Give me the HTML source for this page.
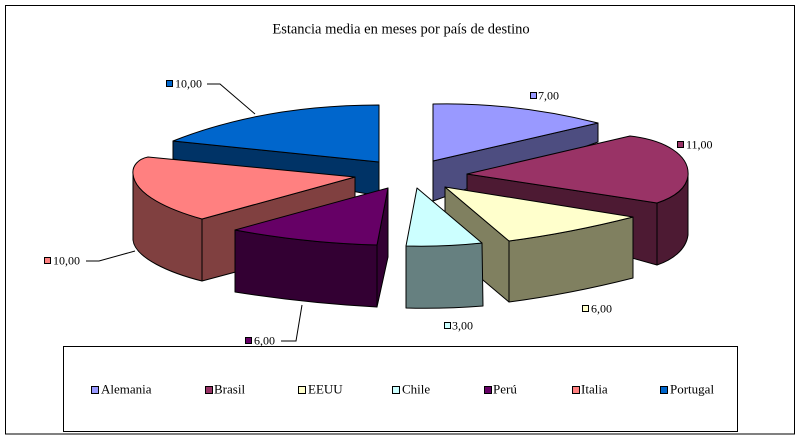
<!DOCTYPE html>
<html>
<head>
<meta charset="utf-8">
<style>
html,body{margin:0;padding:0;background:#fff;}
svg{display:block;}
text{font-family:"Liberation Serif","DejaVu Serif",serif;fill:#000;}
</style>
</head>
<body>
<svg width="802" height="441" viewBox="0 0 802 441" xmlns="http://www.w3.org/2000/svg">
<rect x="0" y="0" width="802" height="441" fill="#fff"/>
<rect x="5.5" y="5.5" width="789" height="428.5" fill="none" stroke="#000" stroke-width="1"/>

<text x="401" y="33.5" font-size="14.5" text-anchor="middle">Estancia media en meses por país de destino</text>

<g stroke="#000" stroke-width="1" stroke-linejoin="round">
<!-- Portugal -->
<path d="M173,141 L379,162 L379,196 L173,159 Z" fill="#003366"/>
<path d="M379,105 Q264,105 173,141 L379,162 Z" fill="#0066CC"/>
<!-- Alemania -->
<path d="M433,161 L598,123 L598,142 L433,201 Z" fill="#4D4D80"/>
<path d="M433,104 Q514,102 598,123 L433,161 Z" fill="#9999FF"/>
<!-- Brasil -->
<path d="M467,174 L657,203 L657,265 L467,212 Z" fill="#4D1A33"/>
<path d="M657,203 C672,198 686,190 688,176 L688,235 C686,250 672,260 657,265 Z" fill="#4D1A33"/>
<path d="M467,174 L630,136 C665,140 690,155 688,176 C686,190 672,198 657,203 Z" fill="#993366"/>
<!-- Italia -->
<path d="M202,219 L355,177 L355,240 L202,281 Z" fill="#804040"/>
<path d="M133,174 C135,195 170,210 202,219 L202,281 C170,273 135,258 133,240 Z" fill="#804040"/>
<path d="M355,177 L148,157 C138,159 132,166 133,174 C135,195 170,210 202,219 Z" fill="#FF8080"/>
<!-- EEUU -->
<path d="M445,187 L509,241 L509,302 L445,248 Z" fill="#808060"/>
<path d="M509,241 Q570,233 633,217 L633,278 Q570,294 509,302 Z" fill="#808060"/>
<path d="M445,187 L633,217 Q570,233 509,241 Z" fill="#FFFFCC"/>
<!-- Perú -->
<path d="M388,188 L388,257 L377,307 L377,245 Z" fill="#330033"/>
<path d="M235,230 Q305,243 377,245 L377,307 Q305,303 235,292 Z" fill="#330033"/>
<path d="M388,188 L235,230 Q305,243 377,245 Z" fill="#660066"/>
<!-- Chile -->
<path d="M406,246 Q444,246 482,243 L483,306 Q444,309 406,308 Z" fill="#668080"/>
<path d="M417,188 L482,243 Q444,247 406,246 Z" fill="#CCFFFF"/>
</g>

<!-- leader lines -->
<g stroke="#000" stroke-width="1" fill="none">
<polyline points="207,84 220,84 255,114"/>
<polyline points="281,341 296,341 302,305"/>
<polyline points="86,261 99,261 135,251"/>
</g>

<!-- data labels -->
<g stroke="#000" stroke-width="1">
<rect x="166.5" y="80.5" width="6" height="6" fill="#0066CC"/>
<rect x="530.5" y="92.5" width="6" height="6" fill="#9999FF"/>
<rect x="677.5" y="141.5" width="6" height="6" fill="#993366"/>
<rect x="582.5" y="305.5" width="6" height="6" fill="#FFFFCC"/>
<rect x="444.5" y="322.5" width="6" height="6" fill="#CCFFFF"/>
<rect x="245.5" y="337.5" width="6" height="6" fill="#660066"/>
<rect x="44.5" y="257.5" width="6" height="6" fill="#FF8080"/>
</g>
<g font-size="12">
<text x="175" y="87.5">10,00</text>
<text x="538" y="99.5">7,00</text>
<text x="686" y="148.5">11,00</text>
<text x="591" y="312.5">6,00</text>
<text x="452" y="329.5">3,00</text>
<text x="254" y="344.5">6,00</text>
<text x="53" y="264.5">10,00</text>
</g>

<!-- legend -->
<rect x="63.5" y="346.5" width="674" height="85" fill="none" stroke="#000" stroke-width="1"/>
<g stroke="#000" stroke-width="1">
<rect x="91.5" y="386.5" width="7" height="7" fill="#9999FF"/>
<rect x="205.5" y="386.5" width="7" height="7" fill="#993366"/>
<rect x="298.5" y="386.5" width="7" height="7" fill="#FFFFCC"/>
<rect x="392.5" y="386.5" width="7" height="7" fill="#CCFFFF"/>
<rect x="484.5" y="386.5" width="7" height="7" fill="#660066"/>
<rect x="572.5" y="386.5" width="7" height="7" fill="#FF8080"/>
<rect x="660.5" y="386.5" width="7" height="7" fill="#0066CC"/>
</g>
<g font-size="13">
<text x="101" y="393.5">Alemania</text>
<text x="214" y="393.5">Brasil</text>
<text x="308" y="393.5">EEUU</text>
<text x="402" y="393.5">Chile</text>
<text x="493" y="393.5">Perú</text>
<text x="581" y="393.5">Italia</text>
<text x="670" y="393.5">Portugal</text>
</g>
</svg>
</body>
</html>
